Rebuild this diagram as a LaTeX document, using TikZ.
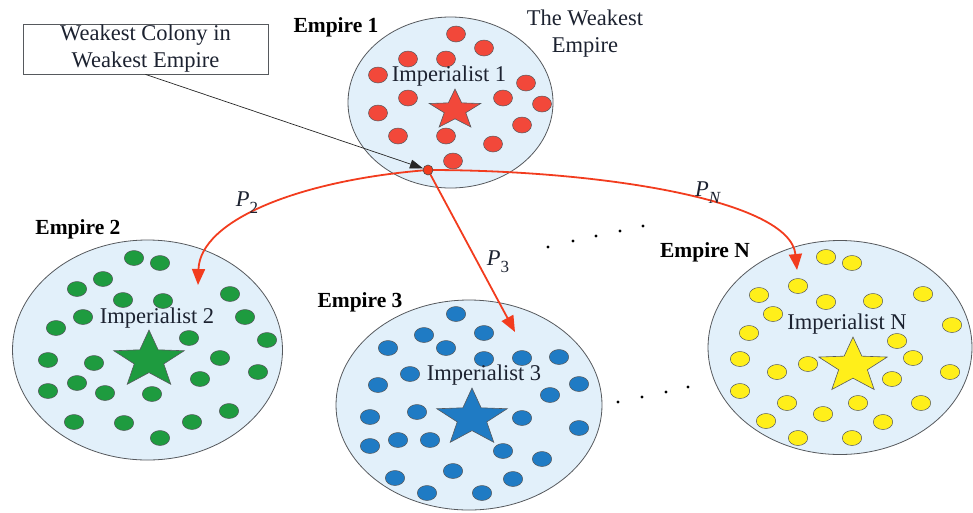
\documentclass[tikz,border=0pt]{standalone}
\usepackage{fontspec}
\setmainfont{Liberation Serif}
\usepackage{tikz}
\usetikzlibrary{arrows.meta}
\definecolor{sea}{HTML}{E2F0FA}
\definecolor{rim}{HTML}{56595D}
\definecolor{tomato}{HTML}{F2483A}
\definecolor{leaf}{HTML}{1E9B3F}
\definecolor{ocean}{HTML}{1F7BC4}
\definecolor{lemon}{HTML}{FFEF1A}
\definecolor{flame}{HTML}{F23C1E}
\definecolor{ink}{HTML}{1C2230}

% five-point star, squashed: fill, x, y, x radius, y radius
\newcommand{\empstar}[5]{%
  \begin{scope}[shift={(#2,#3)}]
    \filldraw[fill=#1,draw=rim,line width=0.6pt] (-90:#4 and #5)
      \foreach \a/\f in {-54/0.42,-18/1,18/0.42,54/1,90/0.42,126/1,162/0.42,198/1,234/0.42}{
        -- ({\a}:{\f*#4} and {\f*#5})} -- cycle;
  \end{scope}}
% italic P with a subscript
\newcommand{\prob}[1]{\textit{P}\raisebox{-0.32em}{\fontsize{17}{17}\selectfont #1}}

\begin{document}
\begin{tikzpicture}[x=1pt,y=-1pt,
    empire/.style={fill=sea,draw=rim,line width=0.8pt},
    colony/.style={draw=rim,line width=0.5pt},
    txt/.style={font=\fontsize{22.5}{27}\selectfont,text=ink},
    lbl/.style={font=\fontsize{21.5}{25}\selectfont\bfseries},
    move/.style={flame,line width=1.8pt,-{Triangle[length=16pt,width=13pt]}}]
  \useasboundingbox (0,0) rectangle (973,512);

  % empires
  \draw[empire] (450.5,102.5) ellipse [x radius=102.5, y radius=85.5];
  \draw[empire] (147.5,350) ellipse [x radius=135, y radius=110];
  \draw[empire] (469,405) ellipse [x radius=133, y radius=105];
  \draw[empire] (840,347.5) ellipse [x radius=132, y radius=107];

  % colonies of empire 1
  \foreach \x/\y in {456/34,484/48,408/59,446/59,378/75,526/83,408/98,503/98,
                     542/104,378/113,522/125,398/136,446/136,493/144,453/161}{
    \filldraw[colony,fill=tomato] (\x,\y) ellipse [x radius=9.5, y radius=8];}
  % colonies of empire 2
  \foreach \x/\y in {134/258,160/263,103/279,77/289,123/300,163/301,230/294,83/317,
                     245/317,56/328,189/338,267/340,48/360,94/363,220/358,258/372,
                     77/383,200/379,48/391,105/393,152/394,229/411,74/422,124/423,
                     192/422,160/438}{
    \filldraw[colony,fill=leaf] (\x,\y) ellipse [x radius=9.7, y radius=7.5];}
  % colonies of empire 3
  \foreach \x/\y in {456/314,424/335,484/333,388/348,446/348,484/359,522/358,559/357,
                     410/374,378/385,579/384,550/395,417/412,370/417,522/418,579/428,
                     398/440,430/440,370/446,503/451,542/459,453/471,395/478,513/479,
                     427/493,482/493}{
    \filldraw[colony,fill=ocean] (\x,\y) ellipse [x radius=9.7, y radius=7.5];}
  % colonies of empire N
  \foreach \x/\y in {826/257,852/263,798/286,759/295,826/302,873/301,923/294,773/314,
                     952/325,749/333,897/341,740/359,913/358,808/364,777/372,950/372,
                     892/379,740/391,787/403,858/403,921/403,823/414,766/421,883/422,
                     798/438,852/438}{
    \filldraw[colony,fill=lemon] (\x,\y) ellipse [x radius=9.7, y radius=7.5];}

  % imperialists
  \empstar{tomato}{455}{110}{27}{21}
  \empstar{leaf}{149}{360}{37}{30}
  \empstar{ocean}{472}{418}{37}{30}
  \empstar{lemon}{853}{366}{36}{29}

  \node[txt] (imp1) at (449,76) {Imperialist 1};
  \node[txt] (imp2) at (157,318) {Imperialist 2};
  \node[txt] (imp3) at (484,375) {Imperialist 3};
  \node[txt] (impN) at (847,324) {Imperialist N};

  \node[lbl] (emp1) at (336,27) {Empire 1};
  \node[lbl] (emp2) at (78,229) {Empire 2};
  \node[lbl] (emp3) at (360,302) {Empire 3};
  \node[lbl] (empN) at (705,252) {Empire N};

  \node[txt,align=center] (weak) at (585,34) {The Weakest\\Empire};
  \node[txt,draw=rim,line width=0.8pt,minimum width=245pt,minimum height=50pt,
        inner sep=0pt,align=center] (wbox) at (145.5,49) {Weakest Colony in\\Weakest Empire};

  % moves of the weakest colony
  \coordinate (wc) at (428,170);
  \coordinate (to2) at (198,285);
  \coordinate (to3) at (515,332);
  \coordinate (toN) at (797,270);
  \draw[move] (wc) .. controls (300,180) and (200,220) .. (to2);
  \draw[move] (wc) -- (to3);
  \draw[move] (wc) .. controls (600,170) and (790,200) .. (toN);
  \node[circle,fill=flame,draw=black!70,line width=0.6pt,inner sep=0pt,
        minimum size=10pt] (wdot) at (wc) {};
  \draw[black!85,line width=0.7pt,-{Triangle[length=13pt,width=9pt]}] (wbox.south) -- (wdot);

  \node[txt] (p2) at (247,203) {\prob{2}};
  \node[txt] (p3) at (498,262) {\prob{3}};
  \node[txt] (pN) at (708,193) {\prob{\textit{N}}};

  % more empires
  \foreach \x/\y in {548/247,573/241,596/236,620/231,643/226,
                     618/402,642/397,666/392,688/387}{
    \fill (\x,\y) circle (1.6);}
\end{tikzpicture}
\end{document}
